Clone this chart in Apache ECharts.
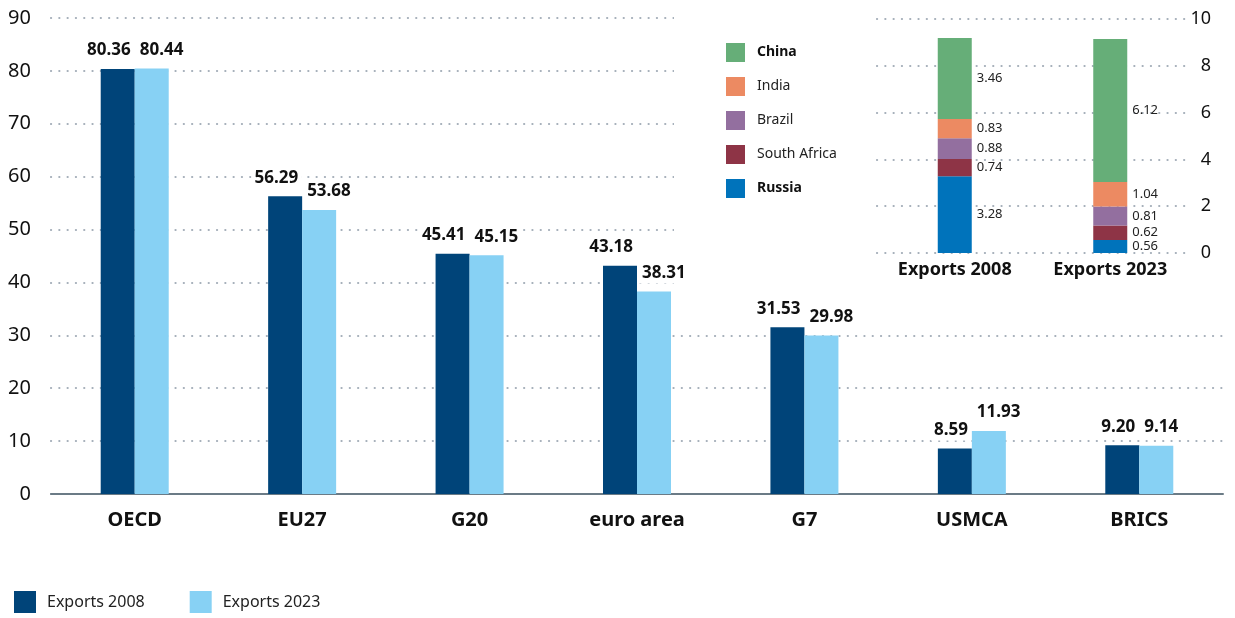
<!DOCTYPE html>
<html>
<head>
<meta charset="utf-8">
<script src="https://cdn.jsdelivr.net/npm/echarts@6/dist/echarts.min.js"></script>
<style>
  html, body { margin: 0; padding: 0; background: #fff; }
  #main { width: 1235px; height: 618px; }
</style>
</head>
<body>
<div id="main"></div>
<script>
var categories = ['OECD', 'EU27', 'G20', 'euro area', 'G7', 'USMCA', 'BRICS'];
var exports2008 = [80.36, 56.29, 45.41, 43.18, 31.53, 8.59, 9.20];
var exports2023 = [80.44, 53.68, 45.15, 38.31, 29.98, 11.93, 9.14];

// BRICS breakdown (inset)
var bricsYears = ['Exports 2008', 'Exports 2023'];
var russia = [3.28, 0.56];
var southAfrica = [0.74, 0.62];
var brazil = [0.88, 0.81];
var india = [0.83, 1.04];
var china = [3.46, 6.12];

var FONT = 'Noto Sans';
// round dots every ~8px
var dotted = { color: '#a3adb8', width: 2.2, type: [0.1, 8.2], cap: 'round' };

var myChart = echarts.init(document.getElementById('main'));

function barLabel(align, dx) {
    return {
        show: true,
        position: 'top',
        distance: 8,
        align: align,
        offset: [dx, 0],
        fontFamily: FONT,
        fontSize: 17,
        fontWeight: 'bold',
        color: '#111',
        backgroundColor: '#fff',
        padding: [2, 3],
        formatter: function (p) { return p.value.toFixed(2); }
    };
}

function stackSeries(name, data, color) {
    return {
        name: name,
        type: 'bar',
        stack: 'brics',
        xAxisIndex: 1,
        yAxisIndex: 1,
        barWidth: 34,
        z: 5,
        itemStyle: { color: color },
        label: {
            show: true,
            position: 'right',
            distance: 5,
            fontFamily: FONT,
            fontSize: 13,
            color: '#222',
            formatter: function (p) { return p.value.toFixed(2); }
        },
        data: data
    };
}

var option = {
    animation: false,
    backgroundColor: '#fff',
    textStyle: { fontFamily: FONT },
    graphic: [{
        type: 'rect',
        z: 1,
        shape: { x: 674, y: 0, width: 561, height: 300 },
        style: { fill: '#fff' }
    }],
    legend: [{
        data: ['Exports 2008', 'Exports 2023'],
        left: 14,
        top: 591,
        padding: 0,
        icon: 'rect',
        itemWidth: 22,
        itemHeight: 22,
        itemGap: 45,
        textStyle: { fontFamily: FONT, fontSize: 16, color: '#222', padding: [0, 0, 0, 6] }
    }, {
        data: ['China', 'India', 'Brazil', 'South Africa', 'Russia'],
        orient: 'vertical',
        left: 726,
        top: 43,
        padding: 0,
        icon: 'rect',
        itemWidth: 19,
        itemHeight: 19,
        itemGap: 15,
        z: 6,
        formatter: function (name) {
            return (name === 'China' || name === 'Russia') ? '{b|' + name + '}' : name;
        },
        textStyle: {
            fontFamily: FONT, fontSize: 14, color: '#222', padding: [0, 0, 0, 7],
            rich: { b: { fontFamily: FONT, fontSize: 14, fontWeight: 'bold', color: '#111' } }
        }
    }],
    grid: [
        { left: 51, right: 12, top: 18, bottom: 124 },
        { left: 877, right: 47, top: 19, bottom: 365 }
    ],
    xAxis: [{
        type: 'category',
        gridIndex: 0,
        data: categories,
        axisTick: { show: false },
        axisLine: { lineStyle: { color: '#6b7b86', width: 2 } },
        axisLabel: { fontFamily: FONT, fontSize: 20, fontWeight: 'bold', color: '#111', margin: 16 }
    }, {
        type: 'category',
        gridIndex: 1,
        data: bricsYears,
        z: 3,
        axisTick: { show: false },
        axisLine: { show: false },
        axisLabel: { fontFamily: FONT, fontSize: 18, fontWeight: 'bold', color: '#111', margin: 8 }
    }],
    yAxis: [{
        type: 'value',
        gridIndex: 0,
        min: 0,
        max: 90,
        interval: 10,
        axisLine: { show: false },
        axisTick: { show: false },
        axisLabel: { fontFamily: FONT, fontSize: 20, color: '#111', margin: 20 },
        splitLine: { lineStyle: dotted }
    }, {
        type: 'value',
        gridIndex: 1,
        position: 'right',
        min: 0,
        max: 10,
        interval: 2,
        z: 3,
        axisLine: { show: false },
        axisTick: { show: false },
        axisLabel: { fontFamily: FONT, fontSize: 18, color: '#111', align: 'right', margin: 23 },
        splitLine: { lineStyle: dotted }
    }],
    series: [{
        name: 'Exports 2008',
        type: 'bar',
        barWidth: 34,
        barGap: '0%',
        itemStyle: { color: '#004479' },
        label: barLabel('right', 16),
        data: exports2008
    }, {
        name: 'Exports 2023',
        type: 'bar',
        barWidth: 34,
        barGap: '0%',
        itemStyle: { color: '#87d1f4' },
        label: barLabel('left', -15),
        data: exports2023
    },
        stackSeries('Russia', russia, '#0073bb'),
        stackSeries('South Africa', southAfrica, '#8e3446'),
        stackSeries('Brazil', brazil, '#936f9f'),
        stackSeries('India', india, '#ec8a62'),
        stackSeries('China', china, '#66ae78')
    ]
};

myChart.setOption(option);
</script>
</body>
</html>
